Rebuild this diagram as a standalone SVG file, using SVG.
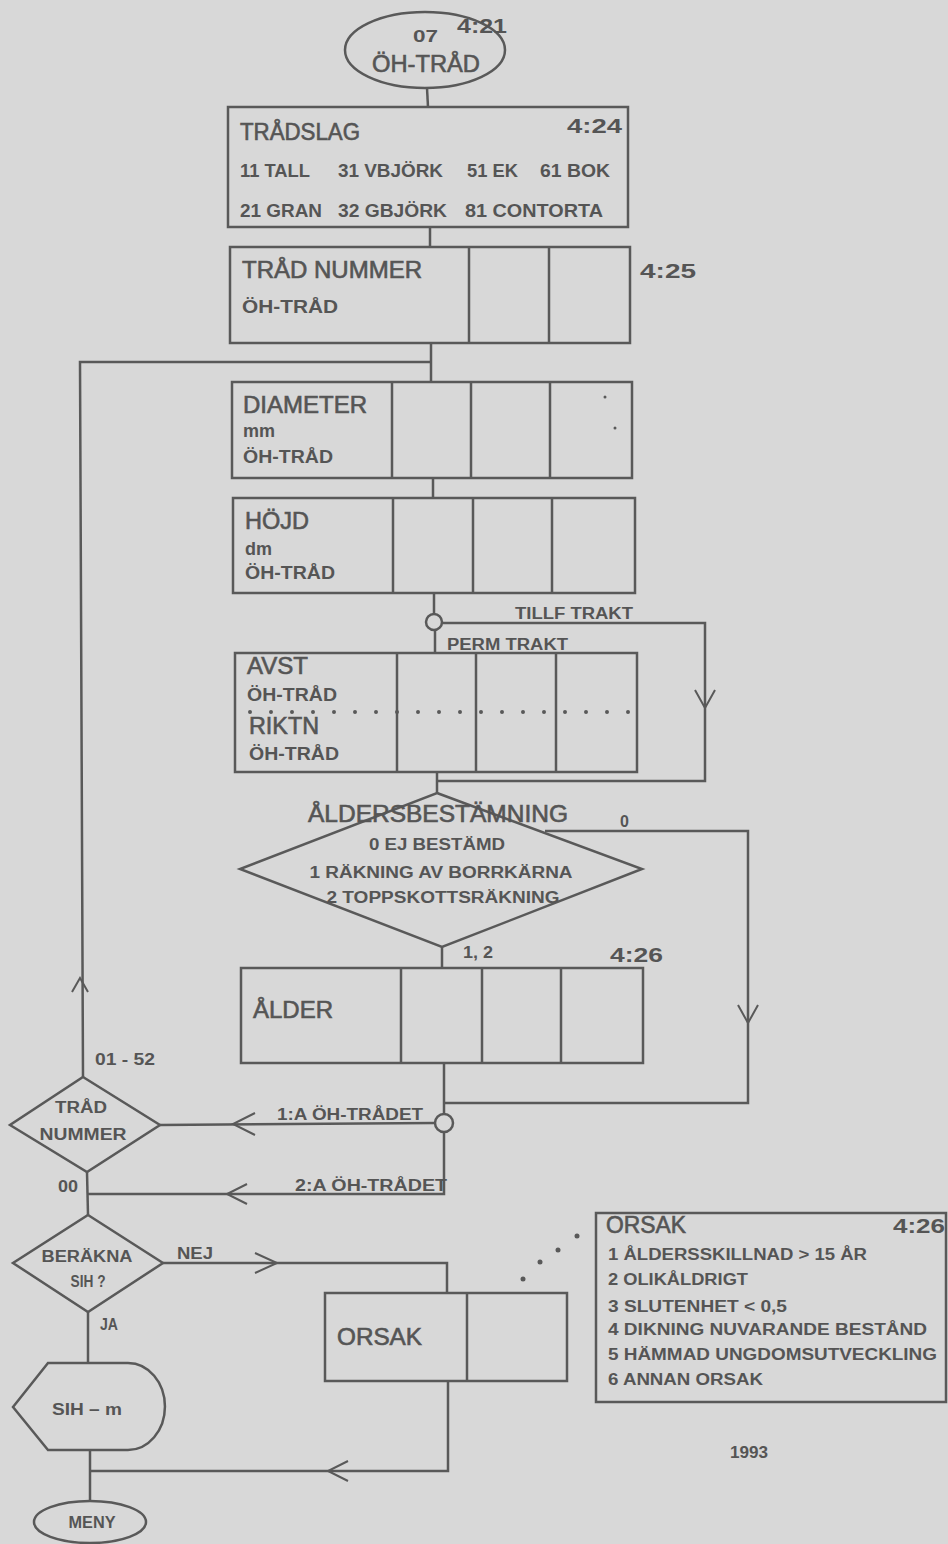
<svg xmlns="http://www.w3.org/2000/svg" width="948" height="1544" viewBox="0 0 948 1544">
<style>
.bg{fill:#d8d8d8}
.sh{fill:none;stroke:#595959;stroke-width:2.5}
.ln{fill:none;stroke:#595959;stroke-width:2.5}
.ar{fill:none;stroke:#595959;stroke-width:2}
.big{font-family:"Liberation Sans",Arial,sans-serif;font-size:23px;fill:#555;stroke:#555;stroke-width:0.6}
.sm{font-family:"Liberation Sans",Arial,sans-serif;font-size:18px;font-weight:bold;fill:#555}
.lb{font-family:"Liberation Sans",Arial,sans-serif;font-size:16px;font-weight:bold;fill:#555}
.num{font-family:"Liberation Sans",Arial,sans-serif;font-size:21px;font-weight:bold;fill:#555}
.dot{fill:#595959}
</style>
<rect class="bg" x="0" y="0" width="948" height="1544"/>

<g id="connectors">
  <line class="ln" x1="427" y1="88" x2="428" y2="107"/>
  <line class="ln" x1="430" y1="227" x2="430" y2="247"/>
  <line class="ln" x1="431" y1="343" x2="431" y2="382"/>
  <line class="ln" x1="433" y1="478" x2="433" y2="498"/>
  <line class="ln" x1="434" y1="593" x2="434" y2="614"/>
  <line class="ln" x1="435" y1="630" x2="435" y2="653"/>
  <polyline class="ln" points="442,623 705,623 705,781 437,781"/>
  <polyline class="ar" points="695,690 705,708 715,690"/>
  <line class="ln" x1="437" y1="772" x2="437" y2="793"/>
  <polyline class="ln" points="545,831 748,831 748,1103 444,1103"/>
  <polyline class="ar" points="738,1005 748,1023 758,1005"/>
  <line class="ln" x1="442" y1="947" x2="442" y2="968"/>
  <line class="ln" x1="444" y1="1063" x2="444" y2="1114"/>
  <line class="ln" x1="435" y1="1123" x2="160" y2="1125"/>
  <polyline class="ar" points="255,1113 233,1124 255,1135"/>
  <polyline class="ln" points="444,1132 444,1194 87,1194"/>
  <polyline class="ar" points="247,1184 227,1194 247,1204"/>
  <polyline class="ln" points="83,1077 80,362 431,362"/>
  <polyline class="ar" points="72,992 80,978 88,992"/>
  <line class="ln" x1="87" y1="1172" x2="88" y2="1215"/>
  <polyline class="ln" points="163,1263 447,1263 447,1293"/>
  <polyline class="ar" points="255,1253 277,1263 255,1273"/>
  <line class="ln" x1="88" y1="1312" x2="88" y2="1363"/>
  <line class="ln" x1="90" y1="1450" x2="90" y2="1501"/>
  <polyline class="ln" points="90,1471 448,1471 448,1381"/>
  <polyline class="ar" points="348,1461 328,1471 348,1481"/>
  <circle class="dot" cx="523" cy="1279" r="2.5"/>
  <circle class="dot" cx="540" cy="1262" r="2.5"/>
  <circle class="dot" cx="558" cy="1250" r="2.5"/>
  <circle class="dot" cx="577" cy="1236" r="2.5"/>
  <text class="lb" x="515" y="619" textLength="118" lengthAdjust="spacingAndGlyphs">TILLF TRAKT</text>
  <text class="lb" x="447" y="650" textLength="121" lengthAdjust="spacingAndGlyphs">PERM TRAKT</text>
  <text class="lb" x="620" y="827">0</text>
  <text class="lb" x="463" y="958" textLength="30" lengthAdjust="spacingAndGlyphs">1, 2</text>
  <text class="lb" x="277" y="1120" textLength="146" lengthAdjust="spacingAndGlyphs">1:A ÖH-TRÅDET</text>
  <text class="lb" x="295" y="1191" textLength="152" lengthAdjust="spacingAndGlyphs">2:A ÖH-TRÅDET</text>
  <text class="lb" x="95" y="1065" textLength="60" lengthAdjust="spacingAndGlyphs">01 - 52</text>
  <text class="lb" x="58" y="1192" textLength="20" lengthAdjust="spacingAndGlyphs">00</text>
  <text class="lb" x="177" y="1259" textLength="36" lengthAdjust="spacingAndGlyphs">NEJ</text>
  <text class="lb" x="100" y="1330" textLength="18" lengthAdjust="spacingAndGlyphs">JA</text>
</g>

<g id="start">
  <ellipse class="sh" cx="425" cy="50" rx="80" ry="38"/>
  <text class="lb" x="413" y="42" font-size="17" textLength="25" lengthAdjust="spacingAndGlyphs">07</text>
  <text class="num" x="457" y="33" textLength="50" lengthAdjust="spacingAndGlyphs">4:21</text>
  <text class="big" x="372" y="72" textLength="108" lengthAdjust="spacingAndGlyphs">ÖH-TRÅD</text>
</g>

<g id="tradslag">
  <rect class="sh" x="228" y="107" width="400" height="120"/>
  <text class="big" x="240" y="140" textLength="120" lengthAdjust="spacingAndGlyphs">TRÅDSLAG</text>
  <text class="num" x="567" y="133" textLength="55" lengthAdjust="spacingAndGlyphs">4:24</text>
  <text class="sm" x="240" y="177" textLength="70" lengthAdjust="spacingAndGlyphs">11 TALL</text>
  <text class="sm" x="338" y="177" textLength="105" lengthAdjust="spacingAndGlyphs">31 VBJÖRK</text>
  <text class="sm" x="467" y="177" textLength="51" lengthAdjust="spacingAndGlyphs">51 EK</text>
  <text class="sm" x="540" y="177" textLength="70" lengthAdjust="spacingAndGlyphs">61 BOK</text>
  <text class="sm" x="240" y="217" textLength="82" lengthAdjust="spacingAndGlyphs">21 GRAN</text>
  <text class="sm" x="338" y="217" textLength="109" lengthAdjust="spacingAndGlyphs">32 GBJÖRK</text>
  <text class="sm" x="465" y="217" textLength="138" lengthAdjust="spacingAndGlyphs">81 CONTORTA</text>
</g>

<g id="tradnummer">
  <rect class="sh" x="230" y="247" width="400" height="96"/>
  <line class="sh" x1="469" y1="247" x2="469" y2="343"/>
  <line class="sh" x1="549" y1="247" x2="549" y2="343"/>
  <text class="big" x="242" y="278" textLength="180" lengthAdjust="spacingAndGlyphs">TRÅD NUMMER</text>
  <text class="sm" x="242" y="313" textLength="96" lengthAdjust="spacingAndGlyphs">ÖH-TRÅD</text>
  <text class="num" x="640" y="278" textLength="56" lengthAdjust="spacingAndGlyphs">4:25</text>
</g>

<g id="diameter">
  <rect class="sh" x="232" y="382" width="400" height="96"/>
  <line class="sh" x1="392" y1="382" x2="392" y2="478"/>
  <line class="sh" x1="471" y1="382" x2="471" y2="478"/>
  <line class="sh" x1="550" y1="382" x2="550" y2="478"/>
  <text class="big" x="243" y="413" textLength="124" lengthAdjust="spacingAndGlyphs">DIAMETER</text>
  <text class="sm" x="243" y="437" font-size="14" font-weight="normal">mm</text>
  <text class="sm" x="243" y="463" textLength="90" lengthAdjust="spacingAndGlyphs">ÖH-TRÅD</text>
  <circle class="dot" cx="605" cy="397" r="1.5"/>
  <circle class="dot" cx="615" cy="428" r="1.5"/>
</g>

<g id="hojd">
  <rect class="sh" x="233" y="498" width="402" height="95"/>
  <line class="sh" x1="393" y1="498" x2="393" y2="593"/>
  <line class="sh" x1="473" y1="498" x2="473" y2="593"/>
  <line class="sh" x1="552" y1="498" x2="552" y2="593"/>
  <text class="big" x="245" y="529" textLength="64" lengthAdjust="spacingAndGlyphs">HÖJD</text>
  <text class="sm" x="245" y="555" font-size="14" font-weight="normal">dm</text>
  <text class="sm" x="245" y="579" textLength="90" lengthAdjust="spacingAndGlyphs">ÖH-TRÅD</text>
</g>

<g id="trakt-val">
  <circle class="sh" cx="434" cy="622" r="8"/>
</g>

<g id="avst-riktn">
  <rect class="sh" x="235" y="653" width="402" height="119"/>
  <line class="sh" x1="397" y1="653" x2="397" y2="772"/>
  <line class="sh" x1="476" y1="653" x2="476" y2="772"/>
  <line class="sh" x1="556" y1="653" x2="556" y2="772"/>
  <line x1="250" y1="712" x2="630" y2="712" stroke="#595959" stroke-width="4" stroke-linecap="round" stroke-dasharray="0 21"/>
  <text class="big" x="247" y="674" textLength="61" lengthAdjust="spacingAndGlyphs">AVST</text>
  <text class="sm" x="247" y="701" textLength="90" lengthAdjust="spacingAndGlyphs">ÖH-TRÅD</text>
  <text class="big" x="249" y="734" textLength="70" lengthAdjust="spacingAndGlyphs">RIKTN</text>
  <text class="sm" x="249" y="760" textLength="90" lengthAdjust="spacingAndGlyphs">ÖH-TRÅD</text>
</g>

<g id="aldersbestamning">
  <polygon class="sh" points="437,793 642,869 442,947 240,869"/>
  <text class="big" x="438" y="822" text-anchor="middle" textLength="260" lengthAdjust="spacingAndGlyphs">ÅLDERSBESTÄMNING</text>
  <text class="lb" x="437" y="850" text-anchor="middle" textLength="136" lengthAdjust="spacingAndGlyphs">0 EJ BESTÄMD</text>
  <text class="lb" x="441" y="878" text-anchor="middle" textLength="263" lengthAdjust="spacingAndGlyphs">1 RÄKNING AV BORRKÄRNA</text>
  <text class="lb" x="443" y="903" text-anchor="middle" textLength="233" lengthAdjust="spacingAndGlyphs">2 TOPPSKOTTSRÄKNING</text>
</g>

<g id="alder">
  <rect class="sh" x="241" y="968" width="402" height="95"/>
  <line class="sh" x1="401" y1="968" x2="401" y2="1063"/>
  <line class="sh" x1="482" y1="968" x2="482" y2="1063"/>
  <line class="sh" x1="561" y1="968" x2="561" y2="1063"/>
  <text class="big" x="253" y="1018" textLength="80" lengthAdjust="spacingAndGlyphs">ÅLDER</text>
  <text class="num" x="610" y="962" textLength="53" lengthAdjust="spacingAndGlyphs">4:26</text>
</g>

<g id="tradval">
  <circle class="sh" cx="444" cy="1123" r="9"/>
</g>

<g id="tradnummer-beslut">
  <polygon class="sh" points="83,1077 160,1125 87,1172 10,1125"/>
  <text class="lb" x="81" y="1113" text-anchor="middle" textLength="52" lengthAdjust="spacingAndGlyphs">TRÅD</text>
  <text class="lb" x="83" y="1140" text-anchor="middle" textLength="87" lengthAdjust="spacingAndGlyphs">NUMMER</text>
</g>

<g id="berakna">
  <polygon class="sh" points="88,1215 163,1263 88,1312 13,1263"/>
  <text class="lb" x="87" y="1262" text-anchor="middle" textLength="91" lengthAdjust="spacingAndGlyphs">BERÄKNA</text>
  <text class="lb" x="88" y="1287" text-anchor="middle" textLength="35" lengthAdjust="spacingAndGlyphs">SIH ?</text>
</g>

<g id="sih">
  <path class="sh" d="M13,1407 L48,1363 L128,1363 A37,43.5 0 0 1 128,1450 L48,1450 Z"/>
  <text class="lb" x="87" y="1415" text-anchor="middle" textLength="70" lengthAdjust="spacingAndGlyphs">SIH – m</text>
</g>

<g id="meny">
  <ellipse class="sh" cx="90" cy="1522" rx="56" ry="21"/>
  <text class="lb" x="92" y="1528" text-anchor="middle" font-size="14" textLength="47" lengthAdjust="spacingAndGlyphs">MENY</text>
</g>

<g id="orsak">
  <rect class="sh" x="325" y="1293" width="242" height="88"/>
  <line class="sh" x1="467" y1="1293" x2="467" y2="1381"/>
  <text class="big" x="337" y="1345" textLength="85" lengthAdjust="spacingAndGlyphs">ORSAK</text>
</g>

<g id="orsak-legend">
  <rect class="sh" x="596" y="1213" width="350" height="189"/>
  <text class="big" x="606" y="1233" font-size="19" textLength="80" lengthAdjust="spacingAndGlyphs">ORSAK</text>
  <text class="num" x="893" y="1233" font-size="19" textLength="52" lengthAdjust="spacingAndGlyphs">4:26</text>
  <text class="lb" x="608" y="1260" textLength="259" lengthAdjust="spacingAndGlyphs">1 ÅLDERSSKILLNAD &gt; 15 ÅR</text>
  <text class="lb" x="608" y="1285" textLength="140" lengthAdjust="spacingAndGlyphs">2 OLIKÅLDRIGT</text>
  <text class="lb" x="608" y="1312" textLength="179" lengthAdjust="spacingAndGlyphs">3 SLUTENHET &lt; 0,5</text>
  <text class="lb" x="608" y="1335" textLength="319" lengthAdjust="spacingAndGlyphs">4 DIKNING NUVARANDE BESTÅND</text>
  <text class="lb" x="608" y="1360" textLength="329" lengthAdjust="spacingAndGlyphs">5 HÄMMAD UNGDOMSUTVECKLING</text>
  <text class="lb" x="608" y="1385" textLength="155" lengthAdjust="spacingAndGlyphs">6 ANNAN ORSAK</text>
</g>

<g id="year">
  <text class="lb" x="730" y="1458" font-size="14" textLength="38" lengthAdjust="spacingAndGlyphs">1993</text>
</g>
</svg>
